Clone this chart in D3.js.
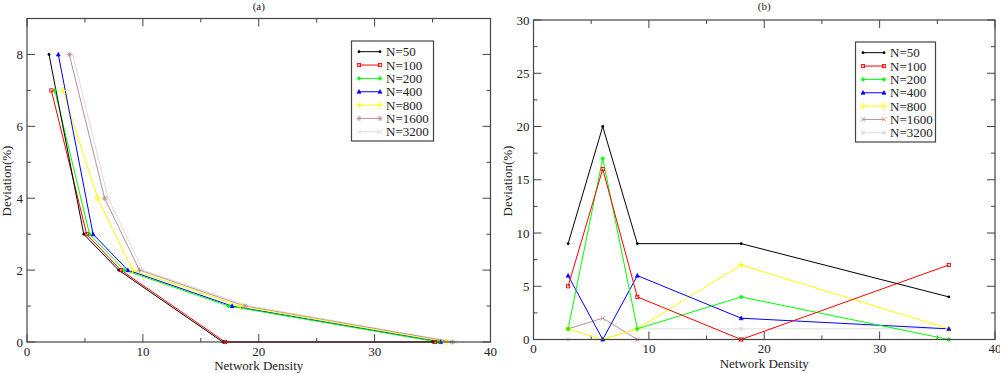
<!doctype html>
<html>
<head>
	<meta charset="utf-8">
	<title>Deviation vs Network Density</title>
	<script src="https://cdnjs.cloudflare.com/ajax/libs/d3/7.8.5/d3.min.js"></script>
	<style>
		body { margin: 0; background: #fff; }
	</style>
</head>
<body>
	<script>
		// series names and colours
		var seriesNames = ['N=50', 'N=100', 'N=200', 'N=400', 'N=800', 'N=1600', 'N=3200'];
		var seriesColors = ['#000000', '#ff0000', '#00ff00', '#0000ff', '#ffff00', '#bc8f8f', '#dcdcdc'];

		// panel (a): every N has its own density values
		var leftX50 = [1.9, 4.9, 7.9, 16.9, 35.0];
		var leftX100 = [2.1, 5.15, 8.1, 17.1, 35.2];
		var leftX200 = [2.4, 5.4, 8.4, 17.4, 35.5];
		var leftX400 = [2.7, 5.7, 8.7, 17.7, 35.7];
		var leftX800 = [3.1, 6.1, 9.1, 18.4, 36.2];
		var leftX1600 = [3.65, 6.7, 9.7, 18.8, 36.7];
		var leftX3200 = [3.95, 7.0, 10.0, 19.2, 37.0];
		var leftY50 = [8, 3, 2, 0, 0];
		var leftY100 = [7, 3, 2, 0, 0];
		var leftY200 = [7, 3, 2, 1, 0];
		var leftY400 = [8, 3, 2, 1, 0];
		var leftY800 = [7, 4, 2, 1, 0];
		var leftY1600 = [8, 4, 2, 1, 0];
		var leftY3200 = [8, 4, 2, 1, 0];

		// panel (b): shared density values
		var rightX = [3, 6, 9, 18, 36];
		var right50 = [9, 20, 9, 9, 4];
		var right100 = [5, 16, 4, 0, 7];
		var right200 = [1, 17, 1, 4, 0];
		var right400 = [6, 0, 6, 2, 1];
		var right800 = [1, 0, 1, 7, 1];
		var right1600 = [1, 2, 0, 0, 0];
		var right3200 = [0, 0, 1, 1, 1];

		// ticks
		var xTicks = [0, 10, 20, 30, 40];
		var xMinor = [5, 15, 25, 35];
		var leftYTicks = [0, 2, 4, 6, 8];
		var leftYMinor = [1, 3, 5, 7];
		var rightYTicks = [0, 5, 10, 15, 20, 25, 30];
		var rightYMinor = [2.5, 7.5, 12.5, 17.5, 22.5, 27.5];

		var serif = "'Liberation Serif', 'Times New Roman', Times, serif";

		function zip(xs, ys) {
			return xs.map(function(x, i) { return { x: x, y: ys[i] }; });
		}

		var leftSeries = [
			zip(leftX50, leftY50), zip(leftX100, leftY100), zip(leftX200, leftY200),
			zip(leftX400, leftY400), zip(leftX800, leftY800), zip(leftX1600, leftY1600),
			zip(leftX3200, leftY3200)
		];
		var rightSeries = [right50, right100, right200, right400, right800, right1600, right3200]
			.map(function(ys) { return zip(rightX, ys); });

		var svg = d3.select('body').append('svg')
			.attr('width', 1000)
			.attr('height', 373)
			.attr('font-family', serif);

		// little marker shapes, one per series
		var leftShapes = ['dot', 'square', 'diamond', 'triangle', 'plus', 'star', 'cross'];
		var rightShapes = ['dot', 'square', 'diamond', 'triangle', 'plus', 'cross', 'star'];

		function drawMarker(g, shape, x, y, color) {
			var m = g.append('g').attr('transform', 'translate(' + x + ',' + y + ')');
			if (shape === 'dot') {
				m.append('circle').attr('r', 1.4).attr('fill', color);
			} else if (shape === 'square') {
				m.append('rect').attr('x', -1.6).attr('y', -1.6).attr('width', 3.2).attr('height', 3.2)
					.attr('fill', 'none').attr('stroke', color).attr('stroke-width', 0.9);
			} else if (shape === 'diamond') {
				m.append('path').attr('d', 'M0,-2L2,0L0,2L-2,0Z')
					.attr('fill', color).attr('stroke', color).attr('stroke-width', 0.6);
			} else if (shape === 'triangle') {
				m.append('path').attr('d', 'M0,-2.2L2,1.6L-2,1.6Z')
					.attr('fill', color).attr('stroke', color).attr('stroke-width', 0.6);
			} else if (shape === 'plus') {
				m.append('path').attr('d', 'M-3.5,0H3.5M0,-3.5V3.5')
					.attr('stroke', color).attr('stroke-width', 1);
			} else if (shape === 'cross') {
				m.append('path').attr('d', 'M-2.2,-2.2L2.2,2.2M-2.2,2.2L2.2,-2.2')
					.attr('stroke', color).attr('stroke-width', 0.9);
			} else {
				m.append('path').attr('d', 'M-2.6,0H2.6M0,-2.6V2.6M-1.9,-1.9L1.9,1.9M-1.9,1.9L1.9,-1.9')
					.attr('stroke', color).attr('stroke-width', 0.9);
			}
		}

		function drawPanel(cfg) {
			var x = d3.scaleLinear().domain([0, 40]).range([cfg.left, cfg.right]);
			var y = d3.scaleLinear().domain(cfg.yDomain).range([cfg.bottom, cfg.top]);
			var g = svg.append('g');
			var frame = '#444';

			// ticks, pointing inwards on all four sides
			function ticks(vals, len) {
				vals.forEach(function(v) {
					var px = x(v);
					g.append('line').attr('x1', px).attr('x2', px).attr('y1', cfg.bottom).attr('y2', cfg.bottom - len)
						.attr('stroke', frame);
					g.append('line').attr('x1', px).attr('x2', px).attr('y1', cfg.top).attr('y2', cfg.top + len)
						.attr('stroke', frame);
				});
			}
			function yticks(vals, len) {
				vals.forEach(function(v) {
					var py = y(v);
					g.append('line').attr('x1', cfg.left).attr('x2', cfg.left + len).attr('y1', py).attr('y2', py)
						.attr('stroke', frame);
					g.append('line').attr('x1', cfg.right).attr('x2', cfg.right - len).attr('y1', py).attr('y2', py)
						.attr('stroke', frame);
				});
			}
			ticks(xTicks, 8);
			ticks(xMinor, 4);
			yticks(cfg.yTicks, 8);
			yticks(cfg.yMinor, 4);

			var line = d3.line().x(function(d) { return x(d.x); }).y(function(d) { return y(d.y); });

			// draw lightest first so the darker ones sit on top
			for (var i = cfg.series.length - 1; i >= 0; i--) {
				g.append('path').datum(cfg.series[i])
					.attr('d', line)
					.attr('fill', 'none')
					.attr('stroke', seriesColors[i])
					.attr('stroke-width', 1);
			}
			for (var i = cfg.series.length - 1; i >= 0; i--) {
				cfg.series[i].forEach(function(d) {
					drawMarker(g, cfg.shapes[i], x(d.x), y(d.y), seriesColors[i]);
				});
			}

			g.append('rect')
				.attr('x', cfg.left).attr('y', cfg.top)
				.attr('width', cfg.right - cfg.left).attr('height', cfg.bottom - cfg.top)
				.attr('fill', 'none').attr('stroke', frame).attr('stroke-width', 1.2);

			// tick labels
			g.selectAll('.xl').data(xTicks).enter().append('text')
				.attr('x', function(d) { return x(d); })
				.attr('y', cfg.bottom + 13.5)
				.attr('text-anchor', 'middle')
				.attr('font-size', 13)
				.attr('fill', '#222')
				.text(function(d) { return d; });
			g.selectAll('.yl').data(cfg.yTicks).enter().append('text')
				.attr('x', cfg.left - 4)
				.attr('y', function(d) { return y(d) + 4.5; })
				.attr('text-anchor', 'end')
				.attr('font-size', 13)
				.attr('fill', '#222')
				.text(function(d) { return d; });

			// titles
			g.append('text')
				.attr('x', (cfg.left + cfg.right) / 2).attr('y', 10)
				.attr('text-anchor', 'middle').attr('font-size', 11)
				.attr('fill', '#222')
				.text(cfg.title);
			g.append('text')
				.attr('x', (cfg.left + cfg.right) / 2).attr('y', cfg.bottom + 28)
				.attr('text-anchor', 'middle').attr('font-size', 13)
				.attr('fill', '#222')
				.text('Network Density');
			g.append('text')
				.attr('transform', 'translate(' + cfg.ylabelX + ',' + 181 + ') rotate(-90)')
				.attr('text-anchor', 'middle').attr('font-size', 13)
				.attr('fill', '#222')
				.text('Deviation(%)');

			// legend
			var lg = g.append('g');
			lg.append('rect')
				.attr('x', cfg.legend.x).attr('y', cfg.legend.y)
				.attr('width', cfg.legend.w).attr('height', 100)
				.attr('fill', '#fff').attr('stroke', frame).attr('stroke-width', 1.2);
			seriesNames.forEach(function(name, i) {
				var ry = cfg.legend.y + 10.7 + i * 13.35;
				var x1 = cfg.legend.x + 7.5, x2 = x1 + 21;
				lg.append('line').attr('x1', x1).attr('x2', x2).attr('y1', ry).attr('y2', ry)
					.attr('stroke', seriesColors[i]).attr('stroke-width', 1);
				drawMarker(lg, cfg.shapes[i], x1, ry, seriesColors[i]);
				drawMarker(lg, cfg.shapes[i], x2, ry, seriesColors[i]);
				lg.append('text').attr('x', x2 + 6).attr('y', ry + 4.5)
					.attr('font-size', 13).attr('fill', '#222').text(name);
			});
		}

		drawPanel({
			left: 27, right: 490.5, top: 18.5, bottom: 342,
			yDomain: [0, 9], yTicks: leftYTicks, yMinor: leftYMinor,
			series: leftSeries, shapes: leftShapes,
			title: '(a)', ylabelX: 11,
			legend: { x: 351.5, y: 41, w: 82 }
		});
		drawPanel({
			left: 533.5, right: 995, top: 20, bottom: 339.5,
			yDomain: [0, 30], yTicks: rightYTicks, yMinor: rightYMinor,
			series: rightSeries, shapes: rightShapes,
			title: '(b)', ylabelX: 512,
			legend: { x: 855.5, y: 42, w: 80 }
		});
	</script>
</body>
</html>
